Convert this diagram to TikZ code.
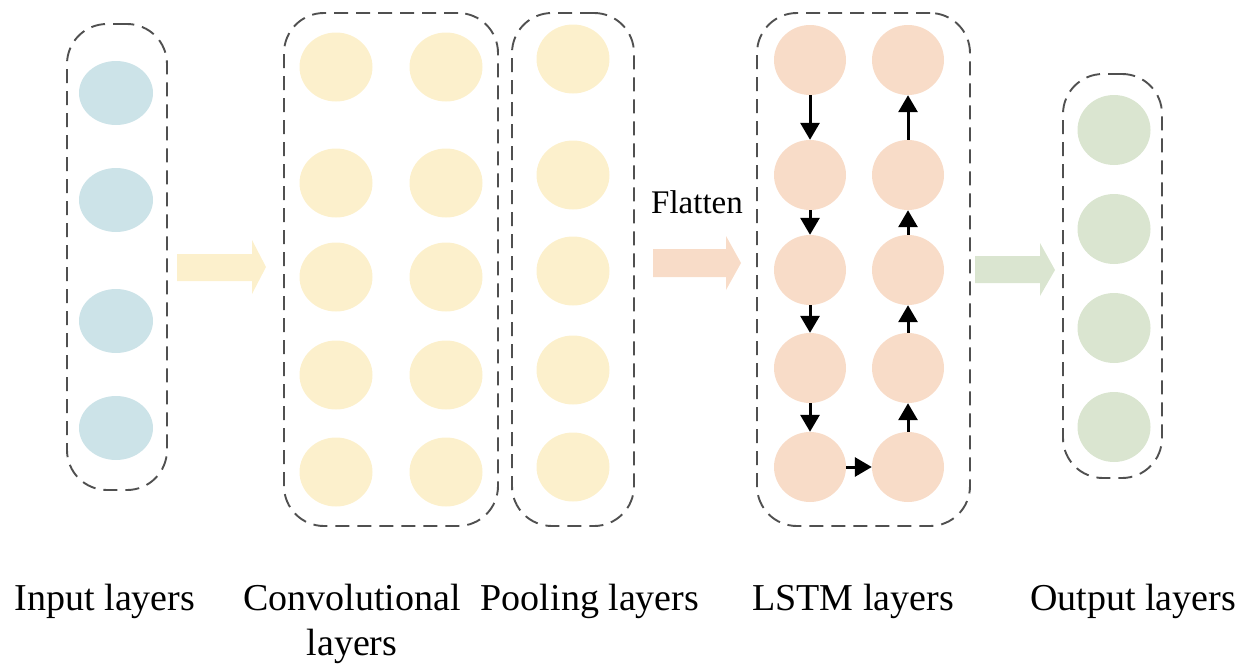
\documentclass[tikz,border=0pt]{standalone}
\usepackage{fontspec}
\setmainfont{Liberation Serif}
\usetikzlibrary{shapes.geometric,arrows.meta}

\definecolor{inblue}{HTML}{CCE3E8}
\definecolor{convyel}{HTML}{FCF0CC}
\definecolor{lstmpeach}{HTML}{F8DCC8}
\definecolor{outgreen}{HTML}{DAE5D0}
\definecolor{dashgray}{HTML}{505050}

\tikzset{
  layerbox/.style={draw=dashgray, line width=1.9pt, dash pattern=on 14pt off 8pt,
    rounded corners=40pt, rectangle, inner sep=0pt},
  neuron/.style={ellipse, inner sep=0pt, draw=none, minimum width=73pt, minimum height=69pt},
  inneuron/.style={neuron, fill=inblue, minimum width=74pt, minimum height=64pt},
  convneuron/.style={neuron, fill=convyel},
  lstmneuron/.style={neuron, fill=lstmpeach, minimum width=72pt, minimum height=70pt},
  outneuron/.style={neuron, fill=outgreen, minimum width=73pt, minimum height=70pt},
  flow/.style={line width=3pt, -{Triangle[length=17pt,width=19pt]}},
  label/.style={anchor=base, font=\fontsize{38}{45}\selectfont, align=center},
}

\begin{document}
\begin{tikzpicture}[x=1pt,y=-1pt]
\useasboundingbox (0,0) rectangle (1245,664);

% dashed layer frames
\node[layerbox, minimum width=100pt, minimum height=466pt] (inbox)   at (117,257) {};
\node[layerbox, minimum width=214pt, minimum height=513pt] (convbox) at (391,269.5) {};
\node[layerbox, minimum width=122pt, minimum height=513pt] (poolbox) at (573,269.5) {};
\node[layerbox, minimum width=213pt, minimum height=513pt] (lstmbox) at (863.5,269.5) {};
\node[layerbox, minimum width=99pt,  minimum height=404pt] (outbox)  at (1112.5,276) {};

% input neurons
\foreach \y [count=\i] in {93,200,321,428}
  \node[inneuron] (in\i) at (116,\y) {};

% convolutional neurons (two columns)
\foreach \y [count=\i] in {67,183,277,375,472} {
  \node[convneuron] (ca\i) at (336,\y) {};
  \node[convneuron] (cb\i) at (446,\y) {};
}

% pooling neurons
\foreach \y [count=\i] in {59,175,271,370,467}
  \node[convneuron] (po\i) at (573,\y) {};

% LSTM neurons
\foreach \y [count=\i] in {60,175,270,368,467} {
  \node[lstmneuron] (la\i) at (810,\y) {};
  \node[lstmneuron] (lb\i) at (908,\y) {};
}

% output neurons
\foreach \y [count=\i] in {130,229,328,427}
  \node[outneuron] (ou\i) at (1114,\y) {};

% recurrent flow through the LSTM cells
\foreach \i [evaluate=\i as \j using int(\i+1)] in {1,...,4} {
  \draw[flow] (la\i.south) -- (la\j.north);
  \draw[flow] (lb\j.north) -- (lb\i.south);
}
\draw[flow] (la5.east) -- (lb5.west);

% block arrows between the stages
\fill[convyel]   (177,254) -- (252,254) -- (252,240) -- (266,267) -- (252,294) -- (252,281) -- (177,281) -- cycle;
\fill[lstmpeach] (653,249) -- (726,249) -- (726,236) -- (741,263) -- (726,290) -- (726,277) -- (653,277) -- cycle;
\fill[outgreen]  (975,256) -- (1040,256) -- (1040,243) -- (1055,270) -- (1040,296) -- (1040,283) -- (975,283) -- cycle;

\node[anchor=base, font=\fontsize{33}{40}\selectfont] (flat) at (697,213) {Flatten};

% layer names
\node[label] (lin)   at (105,610) {Input layers};
\node[label] (lconv) at (352,655) {Convolutional\\layers};
\node[label] (lpool) at (590,610) {Pooling layers};
\node[label] (llstm) at (853,610) {LSTM layers};
\node[label] (lout)  at (1133,610) {Output layers};
\end{tikzpicture}
\end{document}
